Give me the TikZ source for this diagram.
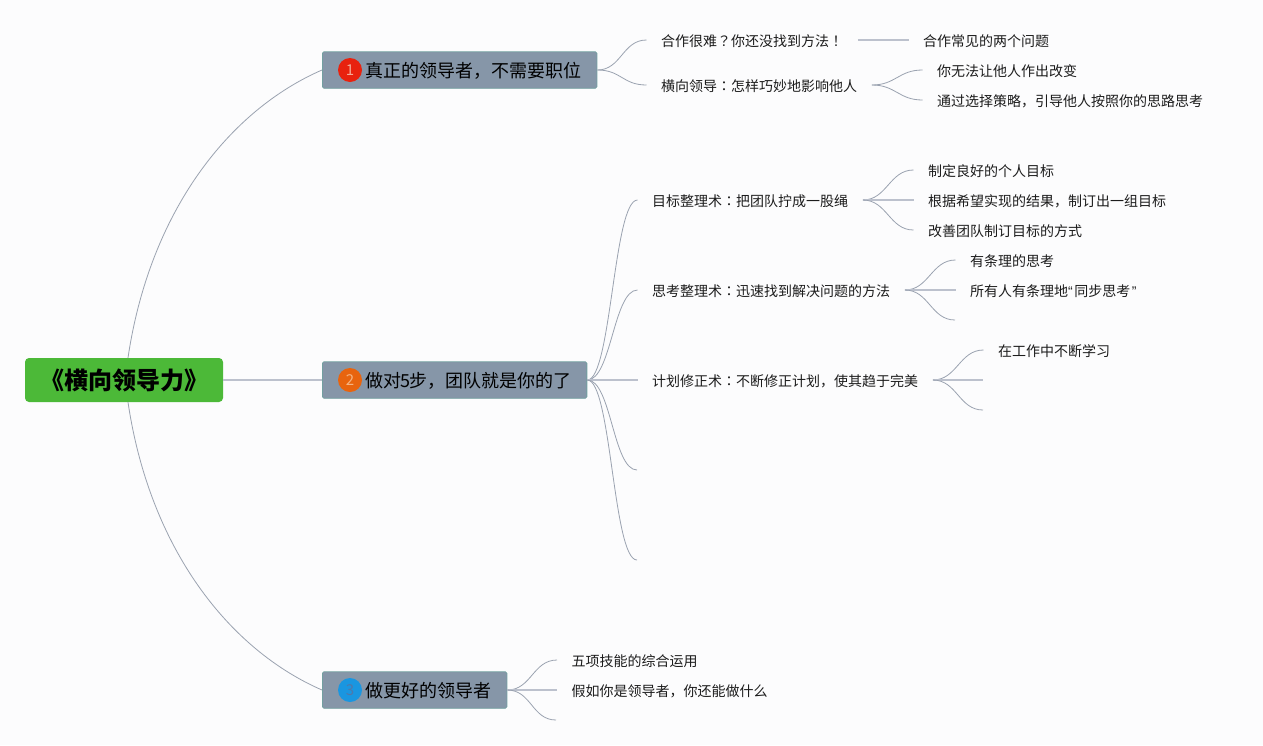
\documentclass[tikz,border=0pt]{standalone}
\usepackage{fontspec}
\setmainfont{Noto Sans CJK SC}
\newfontfamily\tcfont{Noto Sans CJK TC}
\newfontfamily\latinfont{Liberation Sans}
\newcommand{\pc}[1]{{\tcfont #1}}
\definecolor{bgc}{HTML}{FCFCFD}
\definecolor{inkc}{HTML}{1C1C1C}
\definecolor{rootc}{HTML}{4CB938}
\definecolor{topicc}{HTML}{8696A8}
\definecolor{topicb}{HTML}{72A0A0}
\definecolor{thinc}{HTML}{9AA2B0}
\definecolor{thickc}{HTML}{BCC1CD}
\tikzset{
  x=1pt,y=-1pt,
  rootbox/.style={draw=none,fill=rootc,rounded corners=4pt,minimum width=198pt,minimum height=44pt,inner sep=0pt,text=black,font=\fontsize{24}{28}\selectfont\bfseries},
  topicbox/.style={draw=topicb,line width=0.8pt,fill=topicc,rounded corners=1.5pt,minimum height=36.5pt,inner xsep=15.5pt,inner ysep=0pt,anchor=west,text=black,font=\fontsize{18}{22}\selectfont},
  badge/.style={circle,minimum size=24pt,inner sep=0pt,font=\fontsize{15}{18}\selectfont},
  leaf/.style={anchor=west,inner xsep=14.5pt,inner ysep=1pt,text=inkc,font=\fontsize{14}{17}\selectfont},
  curve/.style={draw=thinc,line width=0.8pt},
  thick link/.style={draw=thickc,line width=1.4pt},
}
\newcommand{\sline}[2]{\draw[curve] (#1) .. controls +(24,0) and +(-24,0) .. (#2);}
\newcommand{\tline}[2]{\draw[thick link] (#1) -- (#2);}
\newcommand{\lowered}[1]{\raisebox{0pt}[1em][.12em]{#1}}
\begin{document}
\begin{tikzpicture}
\useasboundingbox (0,0) rectangle (1263,745);
\fill[bgc] (0,0) rectangle (1263,745);
% root and topics
\node[rootbox] (root) at (124,380) {《横向领导力》};
\node[topicbox] (t1) at (322,70) {\hspace*{27.5pt}\lowered{真正的领导者，不需要职位}};
\node[topicbox] (t2) at (322,380) {\hspace*{27.5pt}\lowered{做对\kern-1pt 5\kern-1pt 步，团队就是你的了}};
\node[topicbox] (t3) at (322,690) {\hspace*{27.5pt}\lowered{做更好的领导者}};
\node[badge,fill={rgb,255:red,232;green,34;blue,14},text={rgb,255:red,245;green,170;blue,150}] (n1) at (350,70) {1};
\node[badge,fill={rgb,255:red,232;green,100;blue,14},text={rgb,255:red,245;green,180;blue,130}] (n2) at (350,380) {2};
\node[badge,fill={rgb,255:red,26;green,150;blue,224},text={rgb,255:red,80;green,120;blue,170}] (n3) at (350,690) {3};
% branch 1
\node[leaf] (a1) at (646.5,40) {\lowered{合作很难\pc{？}你还没找到方法\pc{！}}};
\node[leaf] (a2) at (646.5,85) {\lowered{横向领导\pc{：}怎样巧妙地影响他人}};
\node[leaf] (a11) at (908.5,40) {\lowered{合作常见的两个问题}};
\node[leaf] (a21) at (922.5,70) {\lowered{你无法让他人作出改变}};
\node[leaf] (a22) at (922.5,100) {\lowered{通过选择策略，引导他人按照你的思路思考}};
% branch 2
\node[leaf] (b1) at (637.5,200) {\lowered{目标整理术\pc{：}把团队拧成一股绳}};
\node[leaf] (b2) at (637.5,290) {\lowered{思考整理术\pc{：}迅速找到解决问题的方法}};
\node[leaf] (b3) at (637.5,380) {\lowered{计划修正术\pc{：}不断修正计划，使其趋于完美}};
\coordinate (b4) at (637,470);
\coordinate (b5) at (637,560);
\node[leaf] (b11) at (913.5,170) {\lowered{制定良好的个人目标}};
\node[leaf] (b12) at (913.5,200) {\lowered{根据希望实现的结果，制订出一组目标}};
\node[leaf] (b13) at (913.5,230) {\lowered{改善团队制订目标的方式}};
\node[leaf] (b21) at (955.5,260) {\lowered{有条理的思考}};
\node[leaf] (b22) at (955.5,290) {\lowered{所有人有条理地{\latinfont “}\kern1.5pt 同步思考\kern1.5pt{\latinfont ”}}};
\coordinate (b23) at (955,320);
\node[leaf] (b31) at (983.5,350) {\lowered{在工作中不断学习}};
\coordinate (b32) at (983,380);
\coordinate (b33) at (983,410);
% branch 3
\node[leaf] (c1) at (557,660) {\lowered{五项技能的综合运用}};
\node[leaf] (c2) at (557,690) {\lowered{假如你是领导者，你还能做什么}};
\coordinate (c3) at (556,720);
% root links
\draw[curve] ([xshift=4pt]root.north) .. controls (150,210) and (230,110) .. (t1.west);
\draw[curve] ([xshift=4pt]root.south) .. controls (150,550) and (230,650) .. (t3.west);
\tline{root.east}{t2.west}
% topic links
\sline{t1.east}{a1.west}
\sline{t1.east}{a2.west}
\tline{a1.east}{a11.west}
\sline{a2.east}{a21.west}
\sline{a2.east}{a22.west}
\sline{t2.east}{b1.west}
\sline{t2.east}{b2.west}
\tline{t2.east}{b3.west}
\sline{t2.east}{b4}
\sline{t2.east}{b5}
\sline{b1.east}{b11.west}
\tline{b1.east}{b12.west}
\sline{b1.east}{b13.west}
\sline{b2.east}{b21.west}
\tline{b2.east}{b22.west}
\sline{b2.east}{b23}
\sline{b3.east}{b31.west}
\tline{b3.east}{b32}
\sline{b3.east}{b33}
\sline{t3.east}{c1.west}
\tline{t3.east}{c2.west}
\sline{t3.east}{c3}
\end{tikzpicture}
\end{document}
